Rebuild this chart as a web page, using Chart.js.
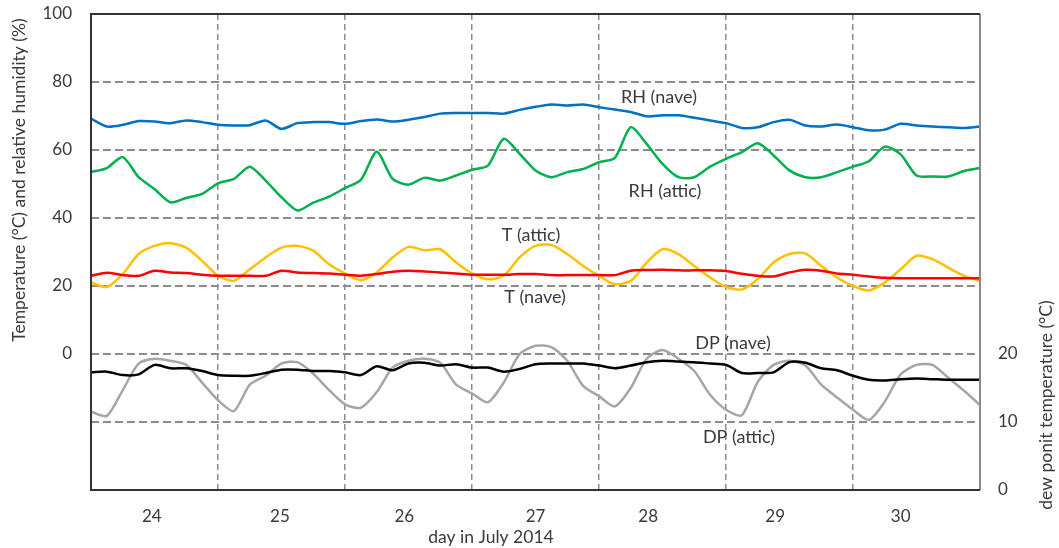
<!DOCTYPE html>
<html>
<head>
<meta charset="utf-8">
<script src="https://cdn.jsdelivr.net/npm/chart.js@4.4.1/dist/chart.umd.min.js"></script>
<style>
  html, body { margin: 0; padding: 0; background: #fff; }
  #wrap { width: 1059px; height: 548px; position: relative; }
</style>
</head>
<body>
<div id="wrap"><canvas id="chart" width="1059" height="548"></canvas></div>
<script>
// hours since 24 July 00:00, read every 3 h
const hours = [0, 3, 6, 9, 12, 15, 18, 21, 24, 27, 30, 33, 36, 39, 42, 45, 48, 51, 54, 57,
  60, 63, 66, 69, 72, 75, 78, 81, 84, 87, 90, 93, 96, 99, 102, 105, 108, 111, 114, 117,
  120, 123, 126, 129, 132, 135, 138, 141, 144, 147, 150, 153, 156, 159, 162, 165, 168];

// day labels and where they sit on the hour axis, day boundaries for the grid
const dayLabels = ['24', '25', '26', '27', '28', '29', '30'];
const dayLabelHours = [11.5, 35.7, 59.2, 84, 105.3, 129.3, 153];
const dayLines = [24, 48, 72, 96, 120, 144];
const leftTicks = [-40, -20, 0, 20, 40, 60, 80, 100];
const rightTicks = [0, 10, 20];

// left axis (°C and %)
const rhNave = [69.2, 66.9, 67.4, 68.5, 68.4, 67.9, 68.7, 68.2, 67.4, 67.2, 67.3, 68.7, 66.2, 67.9, 68.2, 68.2, 67.7, 68.5, 69.0, 68.4,
  68.9, 69.7, 70.7, 70.9, 70.9, 70.9, 70.7, 71.8, 72.7, 73.4, 73.1, 73.4, 72.6, 71.9, 71.2, 69.9, 70.2, 70.2, 69.5, 68.7,
  67.9, 66.5, 66.7, 68.2, 68.9, 67.2, 66.9, 67.5, 66.7, 65.8, 66.0, 67.7, 67.2, 66.9, 66.7, 66.5, 66.9];
const rhAttic = [53.5, 54.7, 57.9, 52.0, 48.5, 44.6, 45.9, 47.1, 50.2, 51.5, 55.1, 51.0, 46.1, 42.2, 44.5, 46.3, 48.8, 51.2, 59.5, 51.5,
  49.8, 51.8, 51.0, 52.5, 54.2, 55.4, 63.3, 58.9, 54.0, 52.0, 53.5, 54.4, 56.4, 57.7, 66.7, 61.8, 55.9, 52.0, 52.0, 55.1,
  57.4, 59.4, 62.0, 58.4, 54.0, 52.0, 52.0, 53.5, 55.1, 56.7, 61.0, 58.7, 52.5, 52.2, 52.2, 53.8, 54.7];
const tAttic = [21.0, 19.7, 23.5, 29.4, 31.8, 32.6, 31.3, 27.4, 23.0, 21.5, 24.9, 28.4, 31.3, 31.8, 30.4, 26.4, 23.7, 21.7, 24.0, 28.4,
  31.5, 30.5, 30.8, 26.9, 23.7, 22.0, 23.0, 28.4, 31.8, 32.1, 29.4, 25.9, 23.0, 20.5, 21.5, 26.9, 30.8, 29.4, 25.9, 22.5,
  19.7, 19.0, 22.0, 26.9, 29.4, 29.6, 25.9, 22.5, 20.0, 18.7, 21.0, 24.9, 28.9, 27.9, 25.4, 23.0, 21.5];
const tNave = [23.0, 23.9, 23.2, 23.0, 24.5, 24.0, 23.8, 23.3, 23.0, 23.0, 23.0, 23.0, 24.5, 24.0, 23.8, 23.7, 23.3, 23.0, 23.5, 24.2,
  24.5, 24.3, 24.0, 23.7, 23.3, 23.3, 23.3, 23.5, 23.5, 23.2, 23.2, 23.2, 23.2, 23.2, 24.5, 24.7, 24.8, 24.6, 24.6, 24.6,
  24.4, 23.6, 23.0, 22.8, 24.0, 24.8, 24.5, 23.7, 23.3, 22.8, 22.4, 22.3, 22.3, 22.3, 22.3, 22.3, 22.3];

// right axis (dew point °C)
const dpNave = [17.3, 17.4, 16.9, 17.0, 18.4, 17.9, 17.9, 17.5, 16.9, 16.8, 16.8, 17.2, 17.7, 17.7, 17.5, 17.5, 17.3, 16.9, 18.2, 17.6,
  18.6, 18.7, 18.3, 18.5, 18.0, 18.0, 17.4, 17.8, 18.5, 18.6, 18.6, 18.6, 18.3, 17.9, 18.3, 18.8, 19.0, 18.9, 18.8, 18.6,
  18.4, 17.2, 17.2, 17.3, 18.8, 18.7, 17.9, 17.6, 16.8, 16.2, 16.1, 16.3, 16.4, 16.3, 16.2, 16.2, 16.2];
const dpAttic = [11.5, 10.9, 14.7, 18.6, 19.3, 19.0, 18.4, 15.8, 13.2, 11.6, 15.5, 16.8, 18.6, 18.8, 17.1, 14.7, 12.6, 12.1, 14.4, 18.0,
  19.0, 19.3, 18.7, 15.5, 14.2, 12.9, 15.8, 20.0, 21.2, 21.0, 19.0, 15.3, 13.8, 12.3, 15.0, 19.3, 20.6, 19.3, 17.5, 14.0,
  11.8, 11.0, 15.9, 18.4, 19.0, 18.3, 15.5, 13.6, 11.8, 10.3, 13.0, 17.0, 18.4, 18.4, 16.5, 14.6, 12.5];

const FONT = 'Lato, "Open Sans", sans-serif';
const TEXT = '#3a3a3a';
const GRID = '#8c8c8c';

function pts(arr) {
  return hours.map((h, i) => ({ x: h, y: arr[i] }));
}

function line(label, arr, color, axis) {
  return {
    label,
    data: pts(arr),
    borderColor: color,
    borderWidth: 2.5,
    pointRadius: 0,
    tension: 0.25,
    yAxisID: axis,
    fill: false
  };
}

// no extra room for labels that stick out, the plot box is fixed
function noPad(scale) {
  scale.paddingTop = 0;
  scale.paddingBottom = 0;
  scale.paddingLeft = 0;
  scale.paddingRight = 0;
}

// frame round the plot area
const framePlugin = {
  id: 'frame',
  afterDatasetsDraw(chart) {
    const { ctx, chartArea: a } = chart;
    ctx.save();
    ctx.lineWidth = 2;
    ctx.strokeStyle = '#8a8a8a';
    ctx.beginPath();
    ctx.moveTo(a.right, a.top);
    ctx.lineTo(a.right, a.bottom);
    ctx.stroke();
    ctx.strokeStyle = '#333';
    ctx.beginPath();
    ctx.moveTo(a.right, a.top);
    ctx.lineTo(a.left, a.top);
    ctx.lineTo(a.left, a.bottom);
    ctx.lineTo(a.right, a.bottom);
    ctx.stroke();
    ctx.restore();
  }
};

// series names and axis titles
const textPlugin = {
  id: 'texts',
  afterDraw(chart) {
    const { ctx } = chart;
    ctx.save();
    ctx.fillStyle = TEXT;
    ctx.font = '18px ' + FONT;
    ctx.textAlign = 'center';
    ctx.textBaseline = 'middle';
    ctx.fillText('RH (nave)', 659, 97);
    ctx.fillText('RH (attic)', 665, 191);
    ctx.fillText('T (attic)', 531, 235);
    ctx.fillText('T (nave)', 535, 297);
    ctx.fillText('DP (nave)', 733, 343);
    ctx.fillText('DP (attic)', 739, 437);

    ctx.font = '17.5px ' + FONT;
    ctx.fillText('day in July 2014', 491, 537);

    ctx.translate(19, 180);
    ctx.rotate(-Math.PI / 2);
    ctx.fillText('Temperature (°C) and relative humidity (%)', 0, 0);
    ctx.restore();

    ctx.save();
    ctx.fillStyle = TEXT;
    ctx.font = '17.5px ' + FONT;
    ctx.textAlign = 'center';
    ctx.textBaseline = 'middle';
    ctx.translate(1046, 405);
    ctx.rotate(-Math.PI / 2);
    ctx.fillText('dew ponit temperature (°C)', 0, 0);
    ctx.restore();
  }
};

new Chart(document.getElementById('chart'), {
  type: 'line',
  data: {
    datasets: [
      line('DP (nave)', dpNave, '#000000', 'y1'),
      line('T (nave)', tNave, '#ff0000', 'y'),
      line('RH (nave)', rhNave, '#0070c0', 'y'),
      line('RH (attic)', rhAttic, '#00b050', 'y'),
      line('T (attic)', tAttic, '#ffc000', 'y'),
      line('DP (attic)', dpAttic, '#a6a6a6', 'y1')
    ]
  },
  options: {
    responsive: false,
    animation: false,
    devicePixelRatio: 1,
    layout: { padding: { top: 14, left: 0, right: 0, bottom: 0 } },
    plugins: {
      legend: { display: false },
      tooltip: { enabled: false }
    },
    scales: {
      x: {
        type: 'linear',
        min: 0,
        max: 168,
        afterBuildTicks: (scale) => {
          const t = dayLines.map(v => ({ value: v }))
            .concat(dayLabelHours.map(v => ({ value: v })));
          scale.ticks = t.sort((a, b) => a.value - b.value);
        },
        afterFit: (scale) => { scale.height = 58; noPad(scale); },
        ticks: {
          autoSkip: false,
          maxRotation: 0,
          padding: 16,
          color: TEXT,
          font: { family: FONT, size: 17 },
          callback: (v) => {
            const i = dayLabelHours.indexOf(v);
            return i >= 0 ? dayLabels[i] : '';
          }
        },
        grid: {
          drawTicks: false,
          lineWidth: 1.5,
          borderDash: [6, 4],
          color: (c) => (c.tick && dayLines.includes(c.tick.value) ? GRID : 'transparent')
        },
        border: { display: false, dash: [6, 4] }
      },
      y: {
        position: 'left',
        min: -40,
        max: 100,
        afterBuildTicks: (scale) => { scale.ticks = leftTicks.map(v => ({ value: v })); },
        afterFit: (scale) => { scale.width = 91; noPad(scale); },
        ticks: {
          padding: 19,
          color: TEXT,
          font: { family: FONT, size: 17 },
          callback: (v) => (v >= 0 ? v : '')
        },
        grid: {
          drawTicks: false,
          lineWidth: 2,
          borderDash: [8, 4],
          color: (c) => {
            const v = c.tick ? c.tick.value : 0;
            return v === -40 || v === 100 ? 'transparent' : GRID;
          }
        },
        border: { display: false, dash: [8, 4] }
      },
      y1: {
        position: 'right',
        min: 0,
        max: 70,
        afterBuildTicks: (scale) => { scale.ticks = rightTicks.map(v => ({ value: v })); },
        afterFit: (scale) => { scale.width = 79; noPad(scale); },
        ticks: {
          padding: 18,
          color: TEXT,
          font: { family: FONT, size: 17 }
        },
        grid: { drawOnChartArea: false, drawTicks: false },
        border: { display: false }
      }
    }
  },
  plugins: [framePlugin, textPlugin]
});
</script>
</body>
</html>
